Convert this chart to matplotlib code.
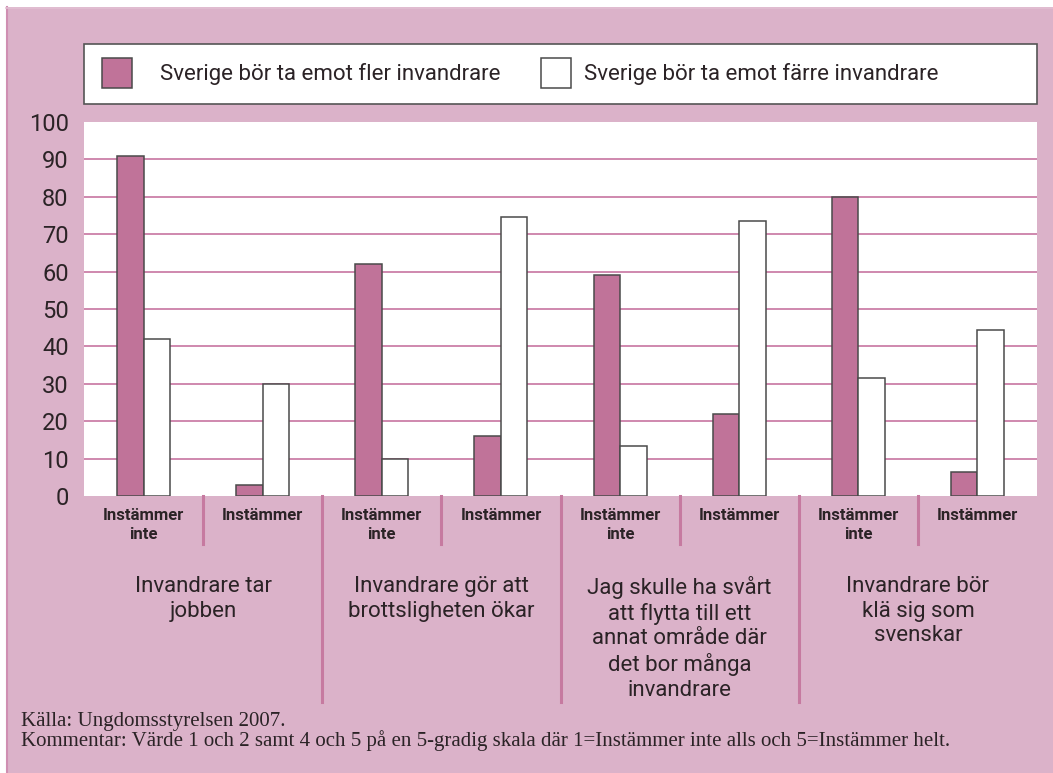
import matplotlib
matplotlib.use("Agg")
import matplotlib.pyplot as plt
from matplotlib.patches import Rectangle
from matplotlib.lines import Line2D

# ---- data ----
series_names = ["Sverige bör ta emot fler invandrare",
                "Sverige bör ta emot färre invandrare"]
fler = [91, 3, 62, 16, 59, 22, 80, 6.5]
farre = [42, 30, 10, 74.5, 13.5, 73.5, 31.5, 44.5]
sub_labels = ["Instämmer\ninte", "Instämmer"] * 4
statements = ["Invandrare tar\njobben",
              "Invandrare gör att\nbrottsligheten ökar",
              "Jag skulle ha svårt\natt flytta till ett\nannat område där\ndet bor många\ninvandrare",
              "Invandrare bör\nklä sig som\nsvenskar"]
yticks = list(range(0, 101, 10))
source = "Källa: Ungdomsstyrelsen 2007."
comment = ("Kommentar: Värde 1 och 2 samt 4 och 5 på en 5-gradig skala där "
           "1=Instämmer inte alls och 5=Instämmer helt.")

# ---- style ----
BG = "#dbb2c9"
PINK = "#c07399"
GRID = "#cf88ae"
DIV = "#c67aa0"
EDGE = "#4a4a4a"
TXT = "#2b2326"
SANS = ["Roboto", "DejaVu Sans"]
SERIF = ["Liberation Serif", "DejaVu Serif"]

W, H = 1053, 773
fig = plt.figure(figsize=(W / 100, H / 100), dpi=100)
fig.patch.set_facecolor("white")

def fx(px):
    return px / W

def fy(py):
    return 1 - py / H

# panel background
fig.add_artist(Rectangle((fx(6), 0), 1 - fx(6), fy(7), transform=fig.transFigure,
                         facecolor=BG, edgecolor="none", zorder=-10))
fig.add_artist(Line2D([fx(6.5), fx(6.5)], [0, fy(7)], transform=fig.transFigure,
                      color="#cf8fb2", lw=1.5, zorder=-9))
fig.add_artist(Line2D([fx(6), 1], [fy(7.5), fy(7.5)], transform=fig.transFigure,
                      color="#e2bfd2", lw=1.2, zorder=-9))

# main axes
left, right, top, bottom = 84, 1037, 122, 496
ax = fig.add_axes([fx(left), fy(bottom), fx(right - left), fy(top) - fy(bottom)])
ax.set_facecolor("white")
n = len(fler)
xs = list(range(n))
bw = 0.222
ax.bar([x - bw / 2 for x in xs], fler, width=bw, color=PINK, edgecolor=EDGE,
       linewidth=1.1, zorder=3)
ax.bar([x + bw / 2 for x in xs], farre, width=bw, color="white", edgecolor=EDGE,
       linewidth=1.1, zorder=3)
ax.set_xlim(-0.5, n - 0.5)
ax.set_ylim(0, 100)
ax.set_yticks(yticks)
ax.set_yticklabels([str(t) for t in yticks], family=SANS, fontsize=17, color=TXT)
ax.tick_params(axis="y", length=0, pad=11)
ax.set_xticks([])
for t in yticks[1:-1]:
    ax.axhline(t, color=GRID, lw=1.4, zorder=1)
for s in ax.spines.values():
    s.set_visible(False)

# dividers below axis
trans = ax.get_xaxis_transform()
ph = bottom - top
for i in range(n - 1):
    xb = i + 0.5
    end_px = 544 if i % 2 == 0 else 702
    yend = -(end_px - bottom) / ph
    ax.add_line(Line2D([xb, xb], [0, yend], transform=trans, color=DIV, lw=2.2,
                       clip_on=False))

# sub labels
for i, lab in enumerate(sub_labels):
    ax.text(i, -(508 - bottom) / ph, lab, transform=trans, ha="center", va="top",
            family=SANS, fontsize=12, fontweight="bold", color=TXT,
            linespacing=1.3)

# statements
for j, st in enumerate(statements):
    ax.text(2 * j + 0.5, -(576 - bottom) / ph, st, transform=trans, ha="center",
            va="top", family=SANS, fontsize=16, color=TXT, linespacing=1.22)

# legend box
fig.add_artist(Rectangle((fx(84), fy(104)), fx(1037 - 84), fy(44) - fy(104),
                         transform=fig.transFigure, facecolor="white",
                         edgecolor="#555555", lw=1.2, zorder=2))
fig.add_artist(Rectangle((fx(102), fy(88)), fx(30), fy(58) - fy(88),
                         transform=fig.transFigure, facecolor=PINK,
                         edgecolor=EDGE, lw=1.1, zorder=3))
fig.add_artist(Rectangle((fx(541), fy(88)), fx(30), fy(58) - fy(88),
                         transform=fig.transFigure, facecolor="white",
                         edgecolor=EDGE, lw=1.1, zorder=3))
fig.text(fx(160), fy(74), series_names[0], family=SANS, fontsize=16, color=TXT,
         va="center", ha="left", zorder=4)
fig.text(fx(584), fy(74), series_names[1], family=SANS, fontsize=16, color=TXT,
         va="center", ha="left", zorder=4)

# footer (one text block, two lines)
fig.text(fx(21), fy(712), source + "\n" + comment, family=SERIF, fontsize=15,
         color=TXT, va="top", ha="left", linespacing=0.95)

fig.savefig("out.png", dpi=100, facecolor=fig.get_facecolor())
